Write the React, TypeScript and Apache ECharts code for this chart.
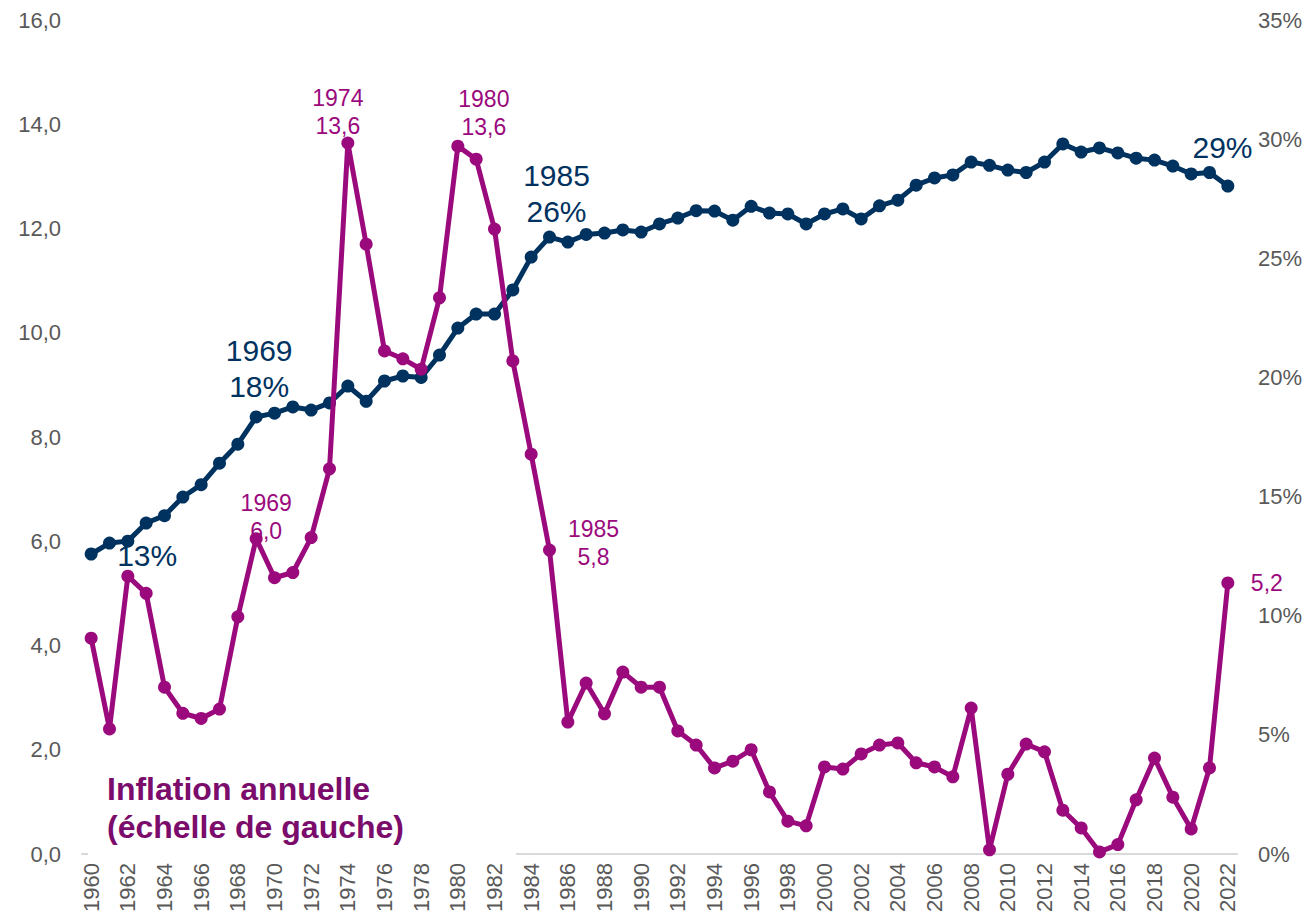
import React, { useEffect, useRef } from "react";
import * as echarts from "echarts";

const years = [
  "1960","1961","1962","1963","1964","1965","1966","1967","1968","1969",
  "1970","1971","1972","1973","1974","1975","1976","1977","1978","1979",
  "1980","1981","1982","1983","1984","1985","1986","1987","1988","1989",
  "1990","1991","1992","1993","1994","1995","1996","1997","1998","1999",
  "2000","2001","2002","2003","2004","2005","2006","2007","2008","2009",
  "2010","2011","2012","2013","2014","2015","2016","2017","2018","2019",
  "2020","2021","2022",
];

// Inflation annuelle (left axis)
const inflation = [
  4.14, 2.4, 5.33, 5.0, 3.2, 2.7, 2.6, 2.78, 4.55, 6.05,
  5.3, 5.4, 6.07, 7.39, 13.64, 11.7, 9.65, 9.5, 9.3, 10.67,
  13.58, 13.33, 11.99, 9.46, 7.67, 5.83, 2.53, 3.28, 2.69, 3.49,
  3.2, 3.2, 2.36, 2.09, 1.65, 1.78, 2.0, 1.19, 0.63, 0.54,
  1.67, 1.63, 1.92, 2.09, 2.13, 1.75, 1.67, 1.48, 2.8, 0.08,
  1.53, 2.11, 1.96, 0.84, 0.5, 0.04, 0.18, 1.04, 1.84, 1.09,
  0.48, 1.65, 5.2,
];

// Navy series (right axis, %)
const share = [
  12.59, 13.05, 13.13, 13.89, 14.2, 14.98, 15.5, 16.4, 17.2, 18.34,
  18.5, 18.76, 18.63, 18.93, 19.64, 19.0, 19.85, 20.06, 20.0, 20.94,
  22.07, 22.66, 22.66, 23.67, 25.05, 25.89, 25.68, 26.0, 26.06, 26.19,
  26.1, 26.44, 26.69, 27.0, 26.98, 26.6, 27.18, 26.9, 26.86, 26.44,
  26.86, 27.07, 26.65, 27.2, 27.44, 28.07, 28.37, 28.5, 29.04, 28.9,
  28.7, 28.6, 29.04, 29.8, 29.46, 29.63, 29.42, 29.2, 29.12, 28.87,
  28.54, 28.6, 28.03,
];

const leftTicks = { min: 0, max: 16, interval: 2 };
const rightTicks = { min: 0, max: 35, interval: 5 };

const inflationNotes = ["1969", "1974", "1980", "1985", "2022"];
const inflationNoteWithYear = ["1969", "1974", "1980", "1985"];
const shareNotes = ["1960", "1969", "1985", "2021"];
const shareNoteWithYear = ["1969", "1985"];

const legendLines = ["Inflation annuelle", "(échelle de gauche)"];

const PURPLE = "#9B0A7D";
const NAVY = "#00325F";
const GRAY = "#595959";
const FONT = "'Liberation Sans', Arial, sans-serif";

const inflationOffsets: Record<string, number[]> = {
  "1969": [10, -22],
  "1974": [-10, -31],
  "1980": [26, -33],
  "1985": [44, -7],
  "2022": [39, 0],
};
const shareOffsets: Record<string, number[]> = {
  "1960": [56, 2],
  "1969": [3, -48],
  "1985": [7, -44],
  "2021": [13, -25],
};

const fmt1 = (v: number) => v.toFixed(1).replace(".", ",");

export default function App() {
  const ref = useRef<HTMLDivElement>(null);

  useEffect(() => {
    if (!ref.current) return;
    const chart = echarts.init(ref.current, null, { renderer: "svg" });

    const inflationData = inflation.map((v, i) => {
      const y = years[i];
      if (!inflationNotes.includes(y)) return v;
      const text = inflationNoteWithYear.includes(y)
        ? `${y}\n${fmt1(v)}`
        : fmt1(v);
      return {
        value: v,
        label: {
          show: true,
          position: "inside",
          offset: inflationOffsets[y],
          formatter: text,
          color: PURPLE,
          fontSize: 23,
          lineHeight: 28,
          fontFamily: FONT,
        },
      };
    });

    const shareData = share.map((v, i) => {
      const y = years[i];
      if (!shareNotes.includes(y)) return v;
      const pct = `${Math.round(v)}%`;
      const text = shareNoteWithYear.includes(y) ? `${y}\n${pct}` : pct;
      return {
        value: v,
        label: {
          show: true,
          position: "inside",
          offset: shareOffsets[y],
          formatter: text,
          color: NAVY,
          fontSize: 30,
          lineHeight: 36,
          fontFamily: FONT,
        },
      };
    });

    chart.setOption({
      animation: false,
      backgroundColor: "#FFFFFF",
      textStyle: { fontFamily: FONT },
      grid: {
        left: 82,
        right: 72,
        top: 20,
        bottom: 70,
        containLabel: false,
        outerBoundsMode: "none",
      },
      xAxis: {
        type: "category",
        data: years,
        boundaryGap: true,
        axisTick: { show: false },
        axisLine: { show: true, lineStyle: { color: "#D9D9D9", width: 2 } },
        axisLabel: {
          interval: 1,
          rotate: 90,
          color: GRAY,
          fontSize: 22,
          margin: 9,
          fontFamily: FONT,
        },
        splitLine: { show: false },
      },
      yAxis: [
        {
          type: "value",
          ...leftTicks,
          axisLine: { show: false },
          axisTick: { show: false },
          splitLine: { show: false },
          axisLabel: {
            color: GRAY,
            fontSize: 22,
            margin: 21,
            fontFamily: FONT,
            formatter: (v: number) => fmt1(v),
          },
        },
        {
          type: "value",
          ...rightTicks,
          position: "right",
          axisLine: { show: false },
          axisTick: { show: false },
          splitLine: { show: false },
          axisLabel: {
            color: GRAY,
            fontSize: 22,
            margin: 21,
            fontFamily: FONT,
            formatter: (v: number) => `${v}%`,
          },
        },
      ],
      series: [
        {
          type: "line",
          name: "share",
          yAxisIndex: 1,
          data: shareData,
          symbol: "circle",
          symbolSize: 13,
          showAllSymbol: true,
          lineStyle: { color: NAVY, width: 5 },
          itemStyle: { color: NAVY },
          emphasis: { disabled: true },
          z: 2,
        },
        {
          type: "line",
          name: "inflation",
          yAxisIndex: 0,
          data: inflationData,
          symbol: "circle",
          symbolSize: 13,
          showAllSymbol: true,
          lineStyle: { color: PURPLE, width: 5 },
          itemStyle: { color: PURPLE },
          emphasis: { disabled: true },
          z: 3,
        },
      ],
      graphic: [
        {
          type: "rect",
          z: 100,
          shape: { x: 88, y: 766, width: 428, height: 93 },
          style: { fill: "#FFFFFF" },
          silent: true,
        },
        {
          type: "text",
          z: 101,
          x: 107,
          y: 770,
          style: {
            text: legendLines.join("\n"),
            fill: "#7B0C6B",
            font: `bold 32px ${FONT}`,
            lineHeight: 38,
            textAlign: "left",
            textVerticalAlign: "top",
          },
          silent: true,
        },
      ],
    });

    return () => chart.dispose();
  }, []);

  return (
    <div
      ref={ref}
      style={{ position: "fixed", left: 0, top: 0, width: 1309, height: 924 }}
    />
  );
}
